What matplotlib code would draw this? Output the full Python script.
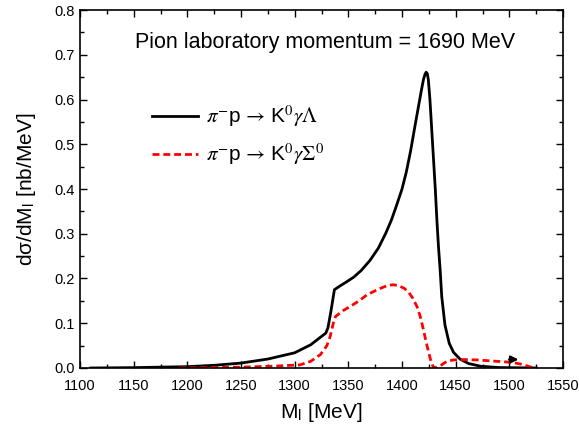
import matplotlib
matplotlib.use("Agg")
import matplotlib.pyplot as plt
from matplotlib.ticker import MultipleLocator

plt.rcParams['font.family'] = ['Liberation Sans', 'DejaVu Sans']
plt.rcParams['mathtext.fontset'] = 'stix'

# pi- p -> K0 gamma Lambda
lam_m = [1110, 1150, 1200, 1225, 1250, 1275, 1300, 1315, 1329, 1331, 1334, 1337,
         1342, 1348, 1355, 1362, 1370, 1378, 1385, 1390, 1395, 1400, 1404, 1408,
         1412, 1415, 1418, 1420, 1421.5, 1422.5, 1423.5, 1424.5, 1426, 1428.5, 1431,
         1432.5, 1434, 1435.5, 1437, 1440, 1444, 1448, 1454, 1462, 1473, 1490, 1525]
lam_y = [0.0, 0.0008, 0.003, 0.006, 0.011, 0.02, 0.034, 0.052, 0.078, 0.09, 0.13, 0.175,
         0.183, 0.192, 0.203, 0.218, 0.24, 0.268, 0.302, 0.33, 0.364, 0.4, 0.438, 0.485,
         0.54, 0.58, 0.62, 0.645, 0.657, 0.661, 0.658, 0.645, 0.6, 0.5, 0.4,
         0.33, 0.27, 0.22, 0.16, 0.096, 0.055, 0.035, 0.02, 0.01, 0.004, 0.001, 0.0]

# pi- p -> K0 gamma Sigma0
sig_m = [1192, 1220, 1250, 1280, 1305, 1315, 1324, 1330, 1333, 1336, 1338, 1345, 1352,
         1360, 1367, 1377, 1387, 1392, 1397, 1402, 1406, 1410, 1414, 1417, 1420, 1422.5,
         1425, 1427, 1429, 1432, 1435, 1438, 1442, 1448, 1455, 1470, 1488, 1500, 1507,
         1512, 1516, 1520, 1524]
sig_y = [0.0, 0.001, 0.002, 0.004, 0.007, 0.015, 0.03, 0.05, 0.07, 0.1, 0.115, 0.128, 0.138,
         0.15, 0.163, 0.175, 0.185, 0.186, 0.184, 0.178, 0.17, 0.156, 0.137, 0.115, 0.085, 0.058,
         0.033, 0.015, 0.003, 0.0, 0.003, 0.009, 0.015, 0.018, 0.019, 0.018, 0.015, 0.013, 0.0105,
         0.008, 0.005, 0.002, 0.0]

arrow_m = [1497, 1511]
arrow_y = 0.019

fig = plt.figure(figsize=(5.79, 4.28), dpi=100)
ax = fig.add_axes([0.1382, 0.1402, 0.8342, 0.8364])

ax.plot(lam_m, lam_y, color='black', lw=2.0,
        label=r'$\pi^{-}$p$\,\rightarrow\,$K$^{0}\gamma\Lambda$')
ax.plot(sig_m, sig_y, color='red', lw=2.0, dashes=(2.5, 1.4),
        label=r'$\pi^{-}$p$\,\rightarrow\,$K$^{0}\gamma\Sigma^{0}$')
ax.annotate('', xy=(arrow_m[1], arrow_y), xytext=(arrow_m[0], arrow_y),
            arrowprops=dict(arrowstyle='-|>', color='black', lw=1.5, mutation_scale=11))

ax.set_xlim(1100, 1550)
ax.set_ylim(0.0, 0.8)
ax.xaxis.set_major_locator(MultipleLocator(50))
ax.xaxis.set_minor_locator(MultipleLocator(25))
ax.yaxis.set_major_locator(MultipleLocator(0.1))
ax.yaxis.set_minor_locator(MultipleLocator(0.05))
ax.yaxis.set_major_formatter(plt.FormatStrFormatter('%.1f'))
ax.tick_params(which='both', direction='in', top=True, right=True, width=1.0, labelsize=10.5)
ax.tick_params(which='major', length=5)
ax.tick_params(which='minor', length=3)
ax.tick_params(axis='x', pad=8)
for s in ax.spines.values():
    s.set_linewidth(1.2)

ax.set_xlabel(r'M$_{\mathregular{l}}$ [MeV]', fontsize=15, labelpad=6)
ax.set_ylabel(r'd$\mathregular{\sigma}$/dM$_{\mathregular{l}}$ [nb/MeV]', fontsize=15, labelpad=12)

ax.text(1328, 0.728, 'Pion laboratory momentum = 1690 MeV', fontsize=15.5,
        ha='center', va='center')

ax.legend(loc='upper left', bbox_to_anchor=(0.11, 0.79), frameon=False, fontsize=15,
          handlelength=2.2, handletextpad=0.4, labelspacing=0.6)

fig.savefig('out.png', dpi=100)
